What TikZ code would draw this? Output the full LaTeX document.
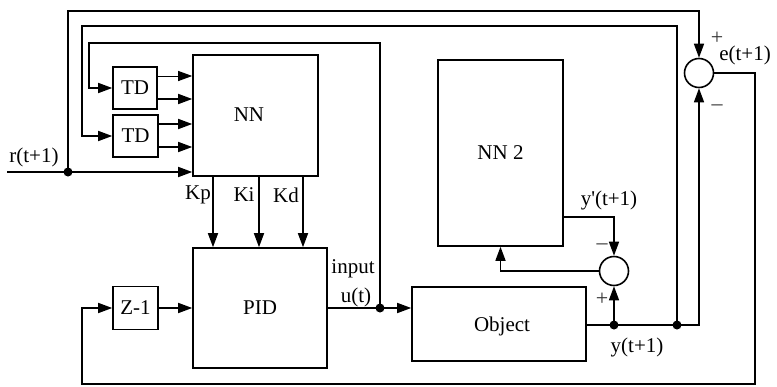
\documentclass[tikz,border=0pt]{standalone}
\usepackage{fontspec}
\setmainfont{Liberation Serif}
\usetikzlibrary{arrows.meta}
\begin{document}
\begin{tikzpicture}[x=1pt,y=-1pt,
  line width=1.5pt,
  blk/.style={draw, line width=1.6pt, inner sep=0pt},
  sumc/.style={draw, circle, line width=1.6pt, minimum size=29pt, inner sep=0pt},
  lab/.style={font=\fontsize{21}{24}\selectfont, inner sep=0pt},
  sgn/.style={font=\fontsize{22}{24}\selectfont, inner sep=0pt, text=black!80},
  arr/.style={-{Triangle[length=14pt,width=10pt]}},
  dot/.style={circle, fill, inner sep=0pt, minimum size=9pt}]
\useasboundingbox (0,0) rectangle (777,386);
% blocks
\node[blk, minimum width=44pt, minimum height=42pt, font=\fontsize{21}{24}\selectfont] (td1) at (135,88) {TD};
\node[blk, minimum width=45pt, minimum height=42pt, font=\fontsize{21}{24}\selectfont] (td2) at (135.5,136) {TD};
\node[blk, minimum width=125pt, minimum height=121pt] (nn) at (255.5,115.5) {};
\node[lab] (nnl) at (249,115) {NN};
\node[blk, minimum width=134pt, minimum height=120pt, font=\fontsize{21}{24}\selectfont] (pid) at (260,308) {PID};
\node[blk, minimum width=45pt, minimum height=43pt, font=\fontsize{21}{24}\selectfont] (z) at (135.5,308) {Z-1};
\node[blk, minimum width=174pt, minimum height=74pt] (obj) at (499,324) {};
\node[lab] (objl) at (502,326) {Object};
\node[blk, minimum width=125pt, minimum height=186pt, font=\fontsize{21}{24}\selectfont] (nn2) at (500.5,153) {NN 2};
\node[sumc] (s1) at (699,73) {};
\node[sumc] (s2) at (614,271) {};
% junctions
\coordinate (rin) at (7,172);
\node[dot] (jr) at (68,172) {};
\node[dot] (ju) at (380,308) {};
\node[dot] (jy1) at (614,325) {};
\node[dot] (jy2) at (677,325) {};
% r input
\draw[arr] (rin) -- (jr.center) -- (nn.west |- rin);
\draw[arr] (jr.center) -- ++(0,-161) -| (s1.north);
% feedback to TDs
\draw[arr] (jy2.center) |- (82,26) |- (td2.west);
\draw[arr] (ju.center) |- (89,43) |- (td1.west);
% TD outputs
\draw[arr, line width=1pt] (td1.east |- 0,76) -- (nn.west |- 0,76);
\draw[arr] (td1.east |- 0,99) -- (nn.west |- 0,99);
\draw[arr] (td2.east |- 0,124) -- (nn.west |- 0,124);
\draw[arr] (td2.east |- 0,147) -- (nn.west |- 0,147);
% gains
\draw[arr] (nn.south -| 213,0) -- (pid.north -| 213,0);
\draw[arr] (nn.south -| 259,0) -- (pid.north -| 259,0);
\draw[arr] (nn.south -| 303,0) -- (pid.north -| 303,0);
\node[lab] (kp) at (198,195) {Kp};
\node[lab] (ki) at (244,195) {Ki};
\node[lab] (kd) at (286,195) {Kd};
% PID loop
\draw[arr] (z.east) -- (pid.west);
\draw (pid.east) -- (ju.center);
\draw[arr] (ju.center) -- (obj.west |- ju);
\node[lab] (inl) at (353,269) {input};
\node[lab] (ul) at (356,297) {u(t)};
% object output
\draw (obj.east |- jy1) -- (jy2.center);
\draw[arr] (jy2.center) -| (s1.south);
\draw[arr] (jy1.center) -- (s2.south);
\draw[arr] (nn2.east |- 0,217) -| (s2.north);
\draw[arr] (s2.west) -| (nn2.south);
\draw[arr] (s1.east) -| (755,384) -| (82,308) -- (z.west);
% labels
\node[lab] (rl) at (34,157) {r(t+1)};
\node[lab] (yl) at (637,347) {y(t+1)};
\node[lab] (ypl) at (609,200) {y\textquotesingle(t+1)};
\node[lab] (el) at (745,55) {e(t+1)};
\node[sgn] (p2) at (602,299) {+};
\node[sgn] (m2) at (602,247) {–};
\node[sgn] (p1) at (717,38) {+};
\node[sgn] (m1) at (717,108) {–};
\end{tikzpicture}
\end{document}
